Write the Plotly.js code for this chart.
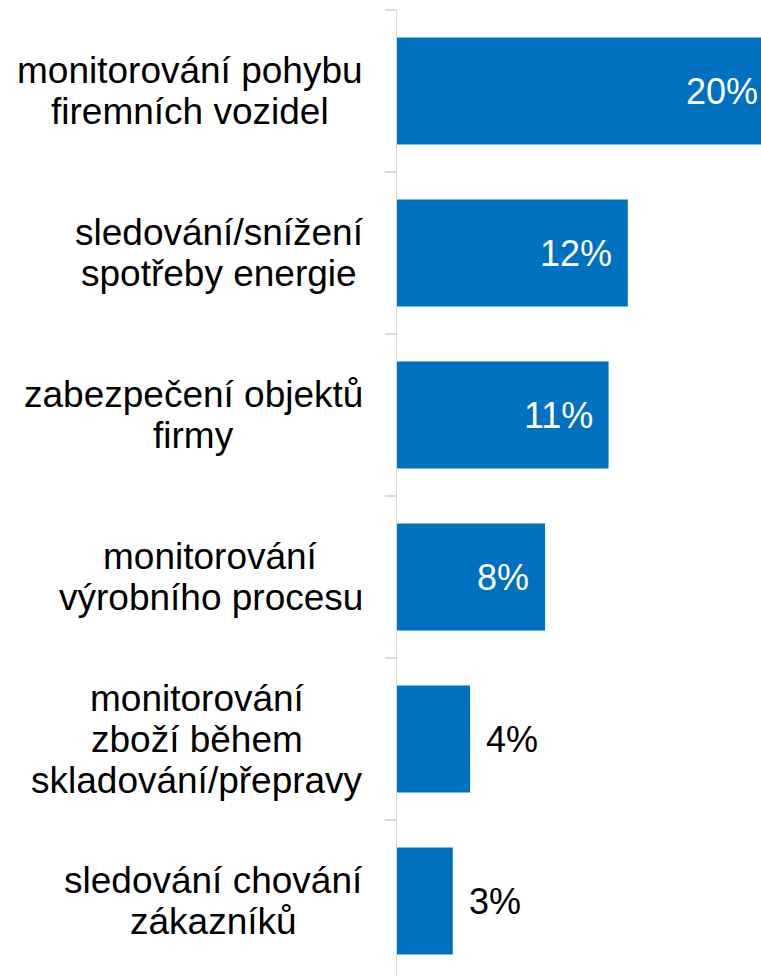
<!DOCTYPE html>
<html>
<head>
<meta charset="utf-8">
<script src="https://cdn.plot.ly/plotly-3.0.1.min.js"></script>
<style>
html, body { margin: 0; padding: 0; overflow: hidden; background: #ffffff; }
#chart { width: 774px; height: 982px; }
</style>
</head>
<body>
<div id="chart"></div>
<script>
// ---- data ----
const categoryLines = [
  ["monitorování pohybu", "firemních vozidel"],
  ["sledování/snížení", "spotřeby energie"],
  ["zabezpečení objektů", "firmy"],
  ["monitorování", "výrobního procesu"],
  ["monitorování", "zboží během", "skladování/přepravy"],
  ["sledování chování", "zákazníků"]
];
const categories = categoryLines.map(l => l.join(" "));
const values = [19.6, 12.0, 11.0, 7.7, 3.8, 2.9];
const valueLabels = ["20%", "12%", "11%", "8%", "4%", "3%"];

// ---- layout constants ----
const FONT = '"Liberation Sans", Arial, sans-serif';
const W = 774, H = 982;
const ML = 397, MT = 10;
const plotW = W - ML;
const labelRight = 363;      // right edge of category text blocks (px)
const labelSize = 37;
const lineGap = 41;
const valueSize = 36;

const ctx = document.createElement('canvas').getContext('2d');
ctx.font = labelSize + 'px "Liberation Sans", Arial, sans-serif';

const annotations = [];
categoryLines.forEach((lines, i) => {
  const maxW = Math.max(...lines.map(t => ctx.measureText(t).width));
  const centerPx = labelRight - maxW / 2;
  const n = lines.length;
  lines.forEach((t, k) => {
    annotations.push({
      xref: 'paper', yref: 'y',
      x: (centerPx - ML) / plotW, y: categories[i],
      xanchor: 'center', yanchor: 'middle',
      yshift: ((n - 1) / 2 - k) * lineGap,
      text: t, showarrow: false,
      font: { family: FONT, size: labelSize, color: '#000000' }
    });
  });
});
values.forEach((v, i) => {
  const inside = v >= 5;
  annotations.push({
    xref: 'x', yref: 'y', x: v, y: categories[i],
    xanchor: inside ? 'right' : 'left', yanchor: 'middle',
    xshift: inside ? -14 : 14,
    text: valueLabels[i], showarrow: false,
    font: { family: FONT, size: valueSize, color: inside ? '#ffffff' : '#000000' }
  });
});

const trace = {
  type: 'bar', orientation: 'h',
  x: values, y: categories,
  marker: { color: '#0070C0' },
  hoverinfo: 'none'
};

const layout = {
  width: W, height: H,
  margin: { l: ML, r: 0, t: MT, b: 0, pad: 0 },
  paper_bgcolor: '#ffffff', plot_bgcolor: '#ffffff',
  showlegend: false,
  bargap: 0.34,
  xaxis: { range: [0, 19.6], visible: false, showgrid: false, zeroline: false, fixedrange: true },
  yaxis: {
    type: 'category', range: [5.5, -0.5],
    showticklabels: false, showgrid: false, zeroline: false,
    showline: true, linecolor: '#D9D9D9', linewidth: 1.3,
    ticks: 'outside', tickson: 'boundaries', ticklen: 11,
    tickcolor: '#D9D9D9', tickwidth: 1.3, fixedrange: true
  },
  annotations: annotations,
  font: { family: FONT }
};

Plotly.newPlot('chart', [trace], layout, { displayModeBar: false, staticPlot: true });
</script>
</body>
</html>
